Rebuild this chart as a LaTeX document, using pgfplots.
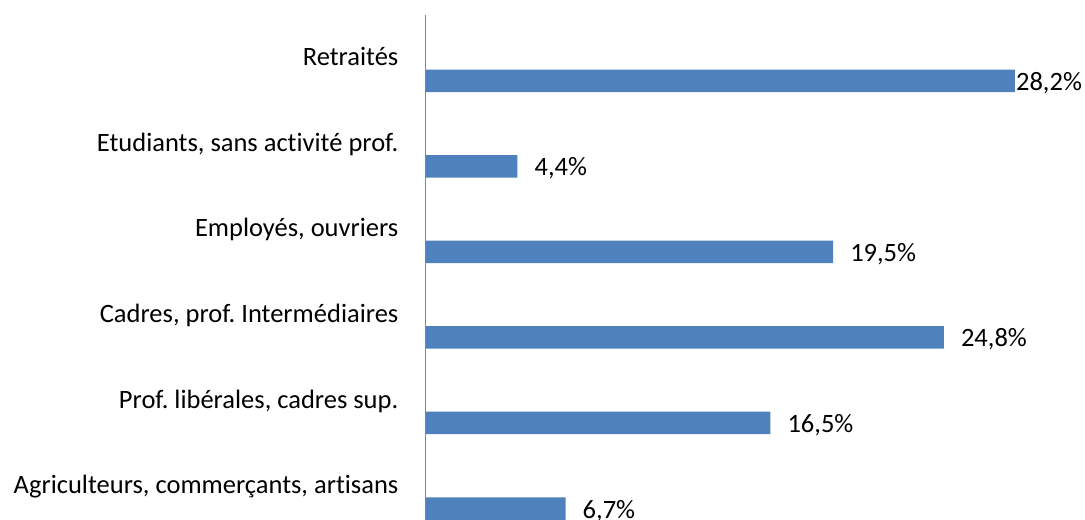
\documentclass[border=0pt]{standalone}
\usepackage{pgfplots}
\usepackage{pgfplotstable}
\pgfplotsset{compat=1.18}
\usepackage{fontspec}
\setmainfont{Carlito}[Ligatures={NoCommon}]
\frenchspacing
\definecolor{barblue}{HTML}{4F81BD}
\definecolor{axgray}{HTML}{868686}
\pgfplotstableread{
x y dx
6.7 0 17
16.5 1 17
24.8 2 17
19.5 3 17
4.4 4 17
28.2 5 1
}\data
\begin{document}
\frenchspacing
\begin{tikzpicture}
\useasboundingbox (0,0) rectangle (1085bp,520bp);
\begin{axis}[
  at={(425.5bp,0bp)}, anchor=south west,
  scale only axis,
  width=627bp, height=505bp,
  xmin=0, xmax=30,
  ymin=-0.1345, ymax=5.772,
  clip=false,
  xbar, bar width=22.5bp,
  axis x line=none,
  axis y line*=left,
  axis line style={draw=axgray, line width=1.5bp},
  ytick={0,1,2,3,4,5},
  yticklabels={{Agriculteurs, commerçants, artisans},{Prof. libérales, cadres sup.},{Cadres, prof. Intermédiaires},{Employés, ouvriers},{Etudiants, sans activité prof.},{Retraités}},
  major tick length=0pt,
  ytick style={draw=none},
  yticklabel style={anchor=base east, inner sep=0pt, xshift=-27bp, yshift=15bp, font=\fontsize{26.5bp}{32bp}\selectfont\frenchspacing, text=black},
  /pgf/number format/assume math mode=true,
  point meta=x,
  visualization depends on={\thisrow{dx}\as\dx},
  nodes near coords={\pgfmathprintnumber[fixed,fixed zerofill,precision=1,use comma]{\pgfplotspointmeta}\%},
  every node near coord/.append style={anchor=base west, inner sep=0pt, xshift=\dx bp, yshift=-9.5bp, font=\fontsize{26.5bp}{32bp}\selectfont, text=black},
]
\addplot[fill=barblue, draw=none] table[x=x, y=y] {\data};
\end{axis}
\end{tikzpicture}
\end{document}
